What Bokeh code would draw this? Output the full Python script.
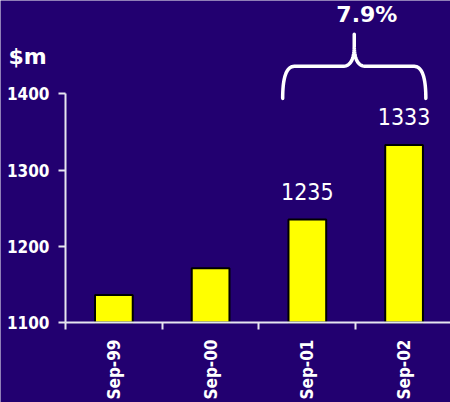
import numpy as np
from bokeh.plotting import figure
from bokeh.models import Range1d, FixedTicker, ColumnDataSource
from bokeh.core.properties import value
from bokeh.embed import file_html
from bokeh.resources import INLINE

# ---- data ----
categories = ["Sep-99", "Sep-00", "Sep-01", "Sep-02"]
revenue = [1136, 1171, 1235, 1333]
labelled = [False, False, True, True]
y_ticks = [1100, 1200, 1300, 1400]
unit_label = "$m"
growth_label = "7.9%"

BG = "#220070"
AX = "#e6e6f0"

xpos = [i + 0.5 for i in range(len(categories))]
base = y_ticks[0]

p = figure(width=450, height=402, output_backend="svg", toolbar_location=None,
           x_range=Range1d(-0.672, 3.98), y_range=Range1d(995.05, 1522.4),
           min_border_left=0, min_border_right=0, min_border_top=0, min_border_bottom=0)
p.background_fill_color = BG
p.border_fill_color = BG
p.outline_line_color = None
p.xgrid.visible = False
p.ygrid.visible = False

src = ColumnDataSource(dict(x=xpos, top=revenue, cat=categories))
p.vbar(x="x", top="top", bottom=base, width=0.39, source=src,
       fill_color="#ffff00", line_color="#000000", line_width=2)

# value labels
lx = [x for x, f in zip(xpos, labelled) if f]
ly = [v for v, f in zip(revenue, labelled) if f]
lt = [str(v) for v, f in zip(revenue, labelled) if f]
p.text(x=lx, y=ly, text=lt, text_align="center", text_baseline="alphabetic",
       y_offset=-28, text_color="white", text_font=value("DejaVu Sans Condensed"),
       text_font_size="23px")

# brace spanning the last two bars
i0, i1 = len(categories) - 2, len(categories) - 1
xa, xb = xpos[i0] - 0.255, xpos[i1] + 0.225
xm = (xa + xb) / 2
yb, yh, ymid, yp = 1394, 1436, 1463, 1478
dx = 0.12

def quad(p0, c, p1, n=20):
    t = np.linspace(0, 1, n)
    xs = (1 - t) ** 2 * p0[0] + 2 * (1 - t) * t * c[0] + t ** 2 * p1[0]
    ys = (1 - t) ** 2 * p0[1] + 2 * (1 - t) * t * c[1] + t ** 2 * p1[1]
    return list(xs), list(ys)

bx, by = [], []
for seg in [quad((xa, yb), (xa, yh), (xa + dx, yh)),
            quad((xm - dx, yh), (xm, yh), (xm, ymid)),
            ([xm], [yp]), ([xm], [ymid]),
            quad((xm, ymid), (xm, yh), (xm + dx, yh)),
            quad((xb - dx, yh), (xb, yh), (xb, yb))]:
    bx += seg[0]
    by += seg[1]
p.line(bx, by, line_color="white", line_width=3.5, line_cap="round", line_join="round")

p.text(x=[xm + 0.13], y=[1504], text=[growth_label], text_align="center",
       text_baseline="alphabetic", text_color="white",
       text_font=value("DejaVu Sans"), text_font_style="bold", text_font_size="22px")

p.text(x=[-0.59], y=[1441], text=[unit_label], text_align="left",
       text_baseline="alphabetic", y_offset=-6, text_color="white",
       text_font=value("DejaVu Sans"), text_font_style="bold", text_font_size="22px")

# y axis
ya = p.yaxis[0]
ya.fixed_location = 0
ya.ticker = FixedTicker(ticks=y_ticks)
ya.bounds = (y_ticks[0], y_ticks[-1])
ya.axis_line_color = AX
ya.axis_line_width = 2
ya.major_tick_line_color = AX
ya.major_tick_line_width = 2
ya.major_tick_out = 7
ya.major_tick_in = 0
ya.minor_tick_line_color = None
ya.major_label_standoff = 9
ya.major_label_text_color = "white"
ya.major_label_text_font = "DejaVu Sans Condensed"
ya.major_label_text_font_style = "bold"
ya.major_label_text_font_size = "17px"

# x axis
xa_ = p.xaxis[0]
xa_.fixed_location = base
xa_.bounds = (0, 3.98)
xa_.ticker = FixedTicker(ticks=xpos, minor_ticks=list(range(len(categories) + 1)))
xa_.major_label_overrides = {x: c for x, c in zip(xpos, categories)}
xa_.major_label_orientation = np.pi / 2
xa_.axis_line_color = AX
xa_.axis_line_width = 2
xa_.major_tick_out = 0
xa_.major_tick_in = 0
xa_.major_tick_line_color = None
xa_.minor_tick_line_color = AX
xa_.minor_tick_line_width = 2
xa_.minor_tick_out = 7
xa_.minor_tick_in = 0
xa_.major_label_standoff = 10
xa_.major_label_text_color = "white"
xa_.major_label_text_font = "DejaVu Sans Condensed"
xa_.major_label_text_font_style = "bold"
xa_.major_label_text_font_size = "17px"

open("out.html", "w").write(file_html(p, INLINE))
